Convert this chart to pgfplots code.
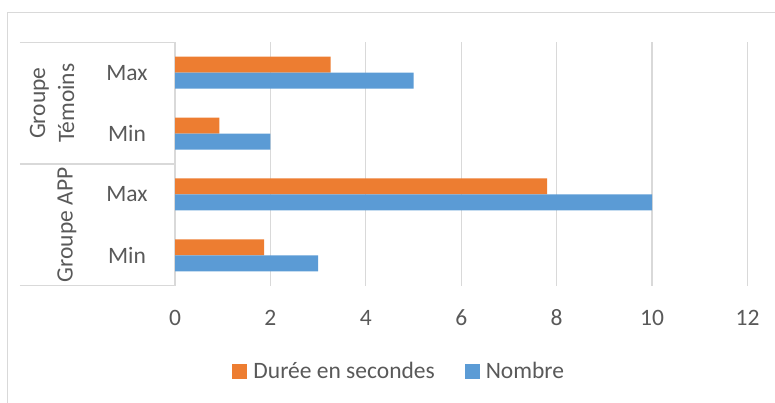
\documentclass[border=0pt]{standalone}
\usepackage{pgfplots}
\pgfplotsset{compat=1.18}
\usepackage{fontspec}
\setmainfont{Carlito}
\definecolor{CO}{HTML}{ED7D31}
\definecolor{CB}{HTML}{5B9BD5}
\definecolor{GR}{HTML}{D9D9D9}
\definecolor{TX}{HTML}{595959}

\begin{document}
\begin{tikzpicture}[x=1pt, y=1pt, font=\fontsize{23.5pt}{29pt}\selectfont, text=TX]
% outer frame (top and left edges only are visible)
\draw[GR, line width=1pt] (7,0) -- (7,390) -- (775,390);
\begin{axis}[
  at={(175pt,117.3pt)}, anchor=south west,
  scale only axis, width=572.5pt, height=243.4pt,
  xbar, bar width=16pt,
  xmin=0, xmax=12, ymin=-0.5, ymax=3.5,
  enlargelimits=false, clip=false,
  xtick={0,2,4,6,8,10,12}, ytick=\empty,
  xmajorgrids, grid style={GR, line width=1.2pt},
  axis line style={draw=none}, tick style={draw=none},
  /pgf/number format/assume math mode=true,
  xticklabel style={anchor=center, yshift=-32pt, text=TX},
  legend style={at={(0.39,-0.3525)}, anchor=center, draw=none, fill=none,
    legend columns=2, nodes={inner sep=0pt, anchor=west, text=TX},
    /tikz/every odd column/.append style={column sep=6pt},
    /tikz/every even column/.append style={column sep=30pt}},
  legend image code/.code={\fill[#1] (0pt,-7.5pt) rectangle (15pt,7.5pt);},
]
% rows: 0 = APP Min, 1 = APP Max, 2 = Temoins Min, 3 = Temoins Max
\addplot[fill=CO, draw=none, bar shift=8pt]
  coordinates {(1.87,0) (7.8,1) (0.93,2) (3.26,3)};
\addlegendentry{Durée en secondes}
\addplot[fill=CB, draw=none, bar shift=-8pt]
  coordinates {(3,0) (10,1) (2,2) (5,3)};
\addlegendentry{Nombre}
% category frame lines
\draw[GR, line width=1.2pt] ([xshift=-155pt]axis cs:0,3.5) -- (axis cs:0,3.5);
\draw[GR, line width=1.2pt] ([xshift=-155pt]axis cs:0,1.5) -- (axis cs:0,1.5);
\draw[GR, line width=1.2pt] ([xshift=-155pt]axis cs:0,-0.5) -- (axis cs:0,-0.5);
% sub-category labels
\node[anchor=center] at ([xshift=-48pt]axis cs:0,3) {Max};
\node[anchor=center] at ([xshift=-48pt]axis cs:0,2) {Min};
\node[anchor=center] at ([xshift=-48pt]axis cs:0,1) {Max};
\node[anchor=center] at ([xshift=-48pt]axis cs:0,0) {Min};
% group labels
\node[rotate=90, align=center, inner sep=0pt] at ([xshift=-123pt]axis cs:0,2.5) {Groupe\\Témoins};
\node[rotate=90, inner sep=0pt] at ([xshift=-108pt]axis cs:0,0.5) {Groupe APP};
\end{axis}
\pgfresetboundingbox
\path (0,0) rectangle (775,403);
\end{tikzpicture}
\end{document}
